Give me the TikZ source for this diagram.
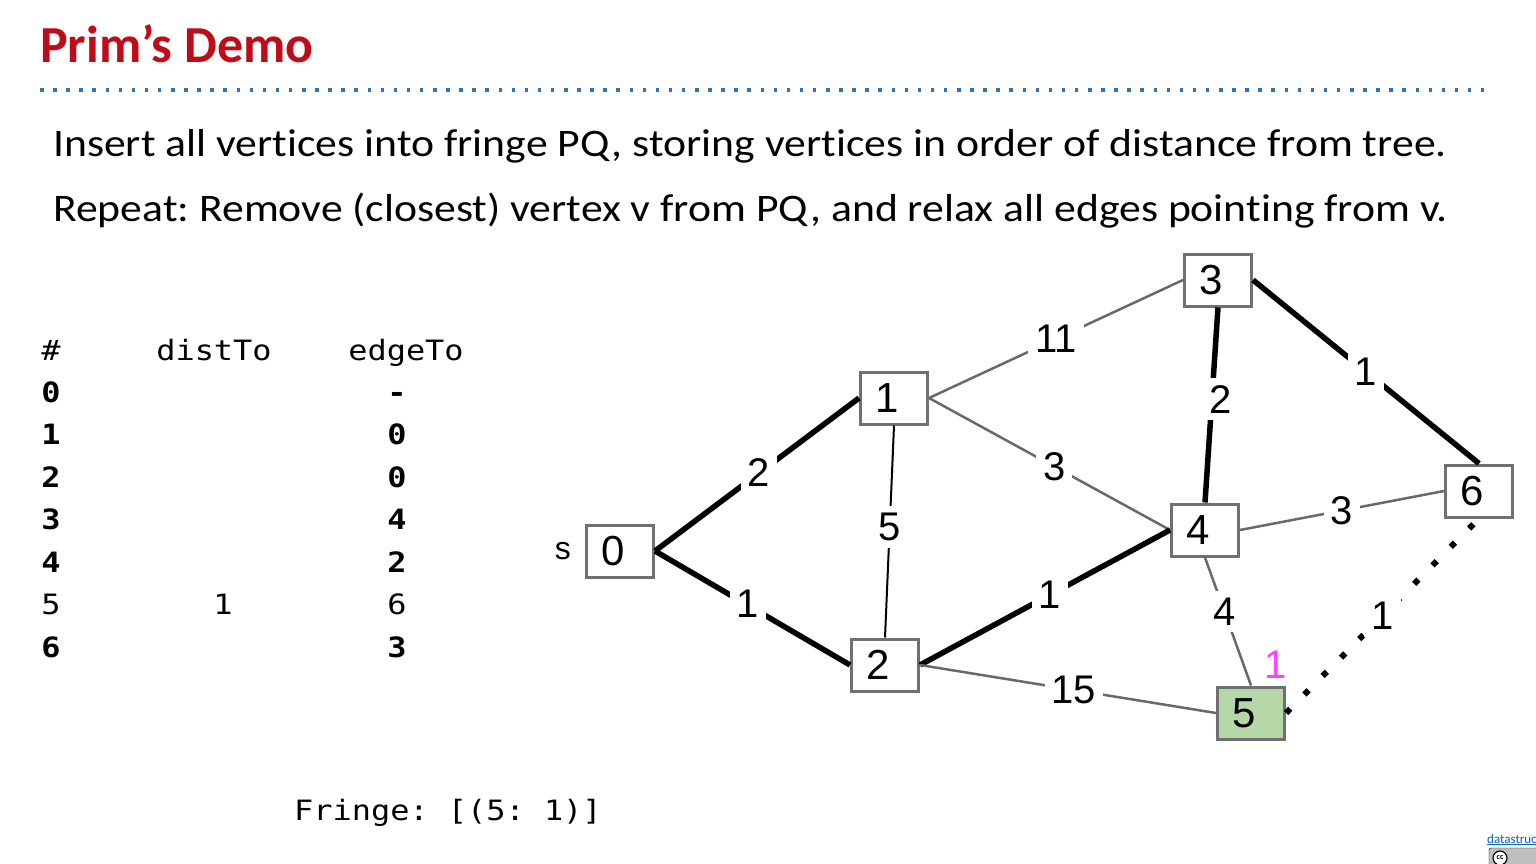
\documentclass[tikz,border=0pt]{standalone}
\usepackage{fontspec}
\setmainfont{Carlito}[Ligatures=NoCommon]
\newfontfamily\bodyfont[FakeStretch=1.12,Ligatures=NoCommon]{Carlito}
\newfontfamily\graphfont{Liberation Sans}
\newfontfamily\tabfont[FakeStretch=1.14]{DejaVu Sans Mono}
\usetikzlibrary{calc, positioning}
\frenchspacing

\definecolor{titlered}{RGB}{192,12,24}
\definecolor{ruleblue}{RGB}{46,117,182}
\definecolor{boxgray}{RGB}{112,112,112}
\definecolor{edgegray}{RGB}{105,105,105}
\definecolor{fringegreen}{RGB}{182,215,168}
\definecolor{pqpink}{RGB}{255,64,255}
\definecolor{linkblue}{RGB}{5,99,193}

\begin{document}
\begin{tikzpicture}[x=1pt,y=-1pt,
    vertex/.style={draw=boxgray,line width=3pt,fill=white,minimum width=67pt,minimum height=52pt,inner sep=0pt,
        font=\graphfont\fontsize{42}{42}\selectfont,execute at begin node=\hspace*{-14pt}},
    wt/.style={fill=white,text=black,inner sep=7pt,font=\graphfont\fontsize{40}{40}\selectfont},
    treeedge/.style={line width=5.5pt},
    grayedge/.style={edgegray,line width=2.5pt},
    row/.style={anchor=base,inner sep=0pt,font=\tabfont\fontsize{28}{28}\selectfont}]
            \useasboundingbox (0,0) rectangle (1536,864);
            % heading
            \node[anchor=base west,inner sep=0pt,text=titlered,font=\bfseries\fontsize{52}{52}\selectfont] (title) at (40,63) {Prim’s Demo};
            \draw[ruleblue,line width=3.5pt,dash pattern=on 3.5pt off 9.6pt] (40,90)--(1484,90);
            \node[anchor=base west,inner sep=0pt,font=\bodyfont\fontsize{39}{39}\selectfont] (line1) at (53,157) {Insert all vertices into fringe PQ, storing vertices in order of distance from tree.};
            \node[anchor=base west,inner sep=0pt,font=\bodyfont\fontsize{39}{39}\selectfont] (line2) at (53,221) {Repeat: Remove (closest) vertex v from PQ, and relax all edges pointing from v.};
            % table
            \node[row] (hnum) at (51,360) {\#};
            \node[row] (hdist) at (214,360) {distTo};
            \node[row] (hedge) at (406,360) {edgeTo};
            \foreach \n/\d/\e/\f [count=\i from 0] in {0//-/\bfseries,1//0/\bfseries,2//0/\bfseries,3//4/\bfseries,4//2/\bfseries,5/1/6/\mdseries,6//3/\bfseries}{
                \node[row] (num\n) at (51,402+42.5*\i) {\f\n};
                \node[row] (dist\n) at (223,402+42.5*\i) {\f\d};
                \node[row] (edge\n) at (397,402+42.5*\i) {\f\e};
            }
            \node[row,anchor=base west] (fringe) at (294,820) {Fringe: [(5: 1)]};
            % graph
            \node[vertex] (v0) at (620,551) {0};
            \node[vertex] (v1) at (894,398) {1};
            \node[vertex] (v2) at (885,665) {2};
            \node[vertex] (v3) at (1218,280) {3};
            \node[vertex] (v4) at (1205,530) {4};
            \node[vertex,fill=fringegreen] (v5) at (1251,713) {5};
            \node[vertex] (v6) at (1479,491) {6};
            \node[left=14pt of v0,inner sep=0pt,font=\graphfont\fontsize{32}{32}\selectfont] (src) {s};
            \node[text=pqpink,font=\graphfont\fontsize{40}{40}\selectfont] (key5) at (1276,665) {1};
            \draw[treeedge] (v0.east)--node[wt,pos=0.51]{2} (v1.west);
            \draw[treeedge] (v0.east)--node[wt,pos=0.46,xshift=3pt]{1} (v2.west);
            \draw[line width=2pt] (v1.south)--node[wt,pos=0.48]{5} (v2.north);
            \draw[grayedge] (v1.east)--node[wt]{11} (v3.west);
            \draw[grayedge] (v1.east)--node[wt,pos=0.52]{3} (v4.west);
            \draw[treeedge] (v2.east)--node[wt,pos=0.52]{1} (v4.west);
            \draw[grayedge] (v2.east)--node[wt,pos=0.52]{15} (v5.west);
            \draw[treeedge] (v4.north)--node[wt,pos=0.53,xshift=9pt]{2} (v3.south);
            \draw[treeedge] (v3.east)--node[wt]{1} (v6.north);
            \draw[grayedge] (v4.east)--node[wt]{3} (v6.west);
            \draw[grayedge] (v4.south)--node[wt,pos=0.42]{4} (v5.north);
            \draw[line width=6pt,dash pattern=on 6pt off 20pt] (v5.east)--node[wt]{1} (v6.south);
            % credit
            \node[anchor=base west,inner sep=0pt,text=linkblue,font=\fontsize{13}{13}\selectfont] (credit) at (1487,843) {\underline{datastruc}};
            \draw[fill=black!25,rounded corners=2pt] (1489,848) rectangle (1550,874);
            \draw[fill=white,line width=1.2pt] (1500,858) circle (7);
            \node[inner sep=0pt,font=\bfseries\fontsize{8}{8}\selectfont] (cc) at (1500,858) {cc};
\end{tikzpicture}
\end{document}
